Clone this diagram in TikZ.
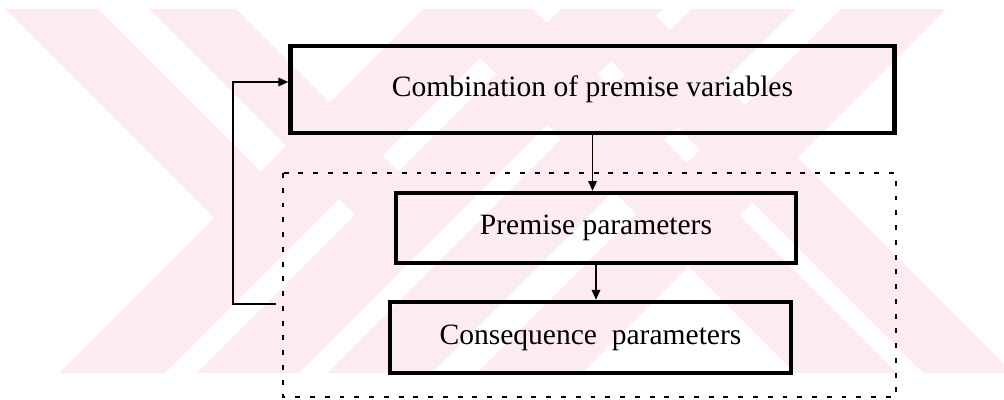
\documentclass[tikz,border=0pt]{standalone}
\usepackage{fontspec}
\setmainfont{Liberation Serif}
\usepackage{xcolor}
\usetikzlibrary{positioning,arrows.meta,calc}
\definecolor{wmpink}{RGB}{253,236,239}

\begin{document}
\begin{tikzpicture}[
    x=0.025cm, y=-0.025cm, >={Triangle[length=7pt,width=6pt]},
    font=\fontsize{21}{25}\selectfont,
    block/.style={draw, line width=3pt, align=center},
    arr/.style={->, line width=1.2pt},
    group/.style={line width=2pt, dash pattern=on 3.5pt off 7pt},
    wm/.style={fill=wmpink, draw=none}
]
\useasboundingbox (0,0) rectangle (1004,400);
% watermark stripes
\begin{scope}
\clip (0,10) rectangle (1004,372);
\foreach \a/\b/\m in {-4/89/485,140/227/621}
  \fill[wm] (\a-10,-10) -- (\b-10,-10) -- ({(\m+\b)/2},{(\m-\b)/2})
    -- ({(\m+\a)/2},{(\m-\a)/2}) -- cycle;
\foreach \a/\b in {422/524,550/640}
  \fill[wm] (\a-10,-10) -- (\b-10,-10) -- (\b+400,400) -- (\a+400,400) -- cycle;
\foreach \c/\d in {432/538,570/672,700/805,850/955}
  \fill[wm] (\c+10,-10) -- (\d+10,-10) -- (\d-400,400) -- (\c-400,400) -- cycle;
\end{scope}
% blocks
\node[block, minimum width=15.1cm, minimum height=2.18cm] (comb) at (592.5,89.5)
  {Combination of premise variables};
\draw[group] (283,173) rectangle (896,397);
\node[block, minimum width=10cm, minimum height=1.75cm] (prem) at (596,228)
  {Premise parameters};
\node[block, minimum width=10.03cm, minimum height=1.78cm] (cons) at (590.5,337.5)
  {Consequence\ \ parameters};
% connectors
\draw[arr] (comb.south) -- (comb.south |- prem.north);
\draw[arr] (prem.south) -- (prem.south |- cons.north);
\coordinate (fb) at (276,304);
\draw[arr] (fb) -- (233,304) -- (233,82) -- (comb.west |- 0,82);
\end{tikzpicture}
\end{document}
